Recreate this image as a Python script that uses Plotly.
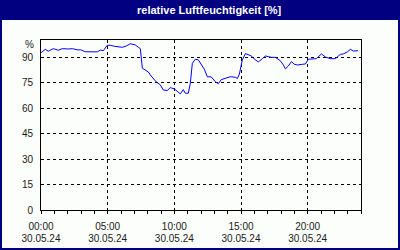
import plotly.graph_objects as go

# time of day in hours (30.05.24), relative humidity in %
hours = [0.0, 0.32, 0.55, 0.92, 1.30, 1.60, 2.05, 2.35, 2.80, 2.95, 3.32, 3.70, 4.22, 4.45, 4.67,
         4.97, 5.20, 5.50, 6.10, 6.40, 6.70, 7.07, 7.30, 7.45, 7.60, 7.82, 8.05, 8.20, 8.42, 8.65,
         8.95, 9.17, 9.47, 9.70, 10.00, 10.22, 10.45, 10.67, 10.82, 11.05, 11.20, 11.35, 11.57,
         11.80, 12.02, 12.25, 12.47, 12.77, 13.07, 13.30, 13.52, 13.90, 14.20, 14.58, 14.73,
         14.88, 15.10, 15.33, 15.55, 15.78, 16.00, 16.30, 16.60, 16.83, 17.05, 17.28, 17.58,
         17.95, 18.18, 18.33, 18.55, 18.78, 19.00, 19.23, 19.60, 19.83, 20.05, 20.35, 20.65,
         21.03, 21.33, 21.70, 22.08, 22.45, 22.67, 22.98, 23.20, 23.43, 23.78]
humidity = [92.5, 94.5, 93.4, 94.9, 94.0, 94.9, 94.7, 94.9, 94.1, 94.3, 93.1, 93.0, 93.0, 94.1, 93.7,
            96.9, 96.9, 96.3, 95.7, 96.5, 97.8, 97.1, 95.9, 94.9, 83.4, 82.4, 81.2, 79.4, 77.5, 75.3,
            73.6, 70.6, 70.3, 72.0, 71.2, 70.0, 68.3, 70.8, 68.7, 68.7, 74.6, 86.3, 88.7,
            88.3, 85.9, 82.8, 78.4, 78.3, 75.5, 74.3, 76.7, 77.9, 78.4, 78.1, 77.3,
            80.0, 88.3, 92.0, 91.2, 90.6, 88.8, 87.1, 89.0, 90.6, 90.2, 89.8, 89.8,
            87.8, 85.3, 83.0, 84.7, 87.3, 85.7, 85.3, 85.7, 85.9, 88.7, 89.0, 89.0,
            91.8, 90.0, 89.0, 89.0, 91.6, 91.8, 93.0, 94.5, 93.5, 93.7]

x_tickvals = [0, 5, 10, 15, 20]
x_time_labels = ["00:00", "05:00", "10:00", "15:00", "20:00"]
x_date_labels = ["30.05.24"] * 5
y_tickvals = [0, 15, 30, 45, 60, 75, 90]
title_text = "relative Luftfeuchtigkeit [%]"
unit_text = "%"

NAVY = "#000080"
BG = "#fcfefc"
FONT = "Liberation Sans"

fig = go.Figure()
fig.add_trace(go.Scatter(x=hours, y=humidity, mode="lines",
                         line=dict(color="#0000ff", width=1), hoverinfo="skip",
                         showlegend=False))
# invisible trace for the date-row axis
fig.add_trace(go.Scatter(x=[0, 24], y=[0, 0], xaxis="x2", mode="lines",
                         line=dict(width=0), opacity=0, hoverinfo="skip", showlegend=False))

L, R, T, B = 41, 39, 40, 40
W, H = 400, 250
pw, ph = W - L - R, H - T - B

def px_x(p):
    return (p - L) / pw

def px_y(p):
    return (H - B - p) / ph

fig.update_layout(
    width=W, height=H,
    margin=dict(l=L, r=R, t=T, b=B, pad=0, autoexpand=False),
    paper_bgcolor=BG, plot_bgcolor=BG,
    font=dict(family=FONT, size=10, color="#1a1a1a"),
    xaxis=dict(range=[0, 24], tickvals=x_tickvals, ticktext=x_time_labels,
               showgrid=True, gridcolor="#000000", griddash="3px,3px", gridwidth=1,
               showline=True, linecolor="#000000", linewidth=1, mirror=True,
               ticks="outside", ticklen=3, tickcolor="#000000", tickwidth=1,
               minor=dict(dtick=1, tick0=0, ticks="outside", ticklen=3,
                          tickcolor="#000000", showgrid=False),
               zeroline=False, fixedrange=True, ticklabelstandoff=4, automargin=False),
    xaxis2=dict(range=[0, 24], overlaying="x", anchor="y", side="bottom",
                tickvals=x_tickvals, ticktext=x_date_labels, showgrid=False,
                showline=False, ticks="", zeroline=False, ticklabelstandoff=21,
                automargin=False, fixedrange=True),
    yaxis=dict(range=[0, 100], tickvals=y_tickvals,
               showgrid=True, gridcolor="#000000", griddash="3px,3px", gridwidth=1,
               showline=True, linecolor="#000000", linewidth=1, mirror=True,
               ticks="", zeroline=False, fixedrange=True, ticklabelstandoff=5,
               automargin=False),
    shapes=[
        dict(type="rect", xref="paper", yref="paper",
             x0=px_x(0), x1=px_x(W), y0=px_y(20), y1=px_y(0),
             fillcolor=NAVY, line=dict(width=0), layer="above"),
        dict(type="rect", xref="paper", yref="paper",
             x0=px_x(1), x1=px_x(W - 1), y0=px_y(H - 1), y1=px_y(1),
             fillcolor="rgba(0,0,0,0)", line=dict(color=NAVY, width=2), layer="above"),
    ],
    annotations=[
        dict(text="<b>" + title_text + "</b>", xref="paper", yref="paper",
             x=px_x(209), y=px_y(10), xanchor="center", yanchor="middle",
             showarrow=False, font=dict(family=FONT, size=11, color="#ffffff")),
        dict(text=unit_text, xref="paper", yref="paper",
             x=px_x(36), y=px_y(44), xanchor="right", yanchor="middle",
             showarrow=False, font=dict(family=FONT, size=10, color="#1a1a1a")),
    ],
)

fig.write_html("out.html")
